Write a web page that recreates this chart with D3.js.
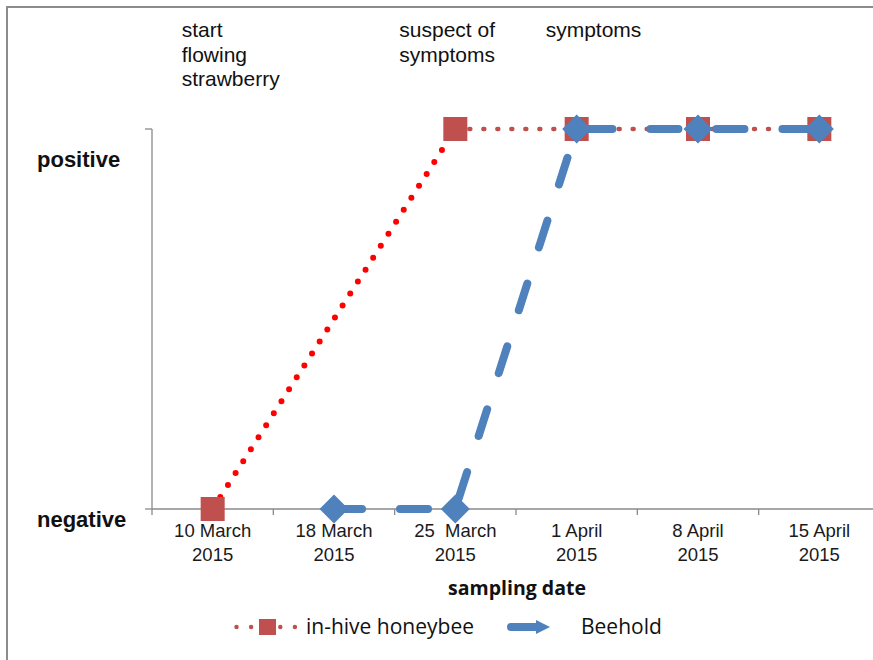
<!DOCTYPE html>
<html>
<head>
<meta charset="utf-8">
<script src="https://cdn.jsdelivr.net/npm/d3@7"></script>
<style>
  html, body { margin: 0; padding: 0; background: #fff; }
  svg { display: block; }
</style>
</head>
<body>
<svg id="chart" width="873" height="660"></svg>
<script>
// Sampling dates (two-line tick labels)
const dates = ["10 March 2015", "18 March 2015", "25 March 2015", "1 April 2015", "8 April 2015", "15 April 2015"];
const tickLines = [["10 March", "2015"], ["18 March", "2015"], ["25  March", "2015"], ["1 April", "2015"], ["8 April", "2015"], ["15 April", "2015"]];

// Detection results: 0 = negative, 1 = positive, null = not sampled
const honeybee = [0, null, 1, 1, 1, 1];
const beehold  = [null, 0, 0, 1, 1, 1];

const yLabels = ["negative", "positive"];
const seriesNames = ["in-hive honeybee", "Beehold"];

// Event notes above the plot
const noteDates = ["10 March 2015", "25 March 2015", "1 April 2015"];
const noteLines = [["start", "flowing", "strawberry"], ["suspect of", "symptoms"], ["symptoms"]];

const svg = d3.select("#chart");
const RED = "#FF0000", DARKRED = "#C0504D", BLUE = "#4F81BD", AXIS = "#8a8a8a";
const ARIAL = "'Liberation Sans', Arial, sans-serif";
const CAL = "'Open Sans', Lato, sans-serif";

// Outer frame (left and top edges)
svg.append("path").attr("d", "M7,660 V7 H873")
  .attr("fill", "none").attr("stroke", "#8c8c8c").attr("stroke-width", 2);

const x = d3.scaleBand().domain(dates).range([152, 880]).padding(0);
const cx = d => x(d) + x.bandwidth() / 2;
const y = d3.scaleLinear().domain([0, 1]).range([509, 129]);

// Axes
const g = svg.append("g");
g.append("line").attr("x1", 152).attr("x2", 152).attr("y1", y(1)).attr("y2", y(0))
  .attr("stroke", AXIS).attr("stroke-width", 1.3);
[0, 1].forEach(v => g.append("line").attr("x1", 145).attr("x2", 152)
  .attr("y1", y(v)).attr("y2", y(v)).attr("stroke", AXIS).attr("stroke-width", 1.3));
g.append("line").attr("x1", 152).attr("x2", 880).attr("y1", y(0)).attr("y2", y(0))
  .attr("stroke", AXIS).attr("stroke-width", 1.3);
dates.concat([null]).forEach(d => {
  const tx = d === null ? x.range()[1] : x(d);
  g.append("line").attr("x1", tx).attr("x2", tx).attr("y1", y(0)).attr("y2", y(0) + 6)
    .attr("stroke", AXIS).attr("stroke-width", 1.3);
});

// Category labels
dates.forEach((d, i) => {
  const t = svg.append("text").attr("x", cx(d)).attr("y", 537)
    .attr("text-anchor", "middle").attr("font-family", ARIAL).attr("font-size", 18.5)
    .attr("fill", "#1a1a1a").style("white-space", "pre");
  tickLines[i].forEach((ln, j) => t.append("tspan").attr("x", cx(d)).attr("dy", j ? 24 : 0).text(ln));
});

// Y category labels
const yLabelPos = [{ x: 37, y: 527 }, { x: 37, y: 167 }];
yLabels.forEach((l, i) => svg.append("text").attr("x", yLabelPos[i].x).attr("y", yLabelPos[i].y)
  .attr("font-family", ARIAL).attr("font-weight", "bold").attr("font-size", 22)
  .attr("fill", "#111").text(l));

// Axis title
svg.append("text").attr("x", 517).attr("y", 595).attr("text-anchor", "middle")
  .attr("font-family", CAL).attr("font-weight", "bold").attr("font-size", 19.5)
  .attr("fill", "#111").text("sampling date");

// Notes
const noteDx = [-31, -56, -31];
noteDates.forEach((d, i) => {
  const t = svg.append("text").attr("x", cx(d) + noteDx[i]).attr("y", 37)
    .attr("font-family", ARIAL).attr("font-size", 21).attr("fill", "#111");
  noteLines[i].forEach((ln, j) => t.append("tspan").attr("x", cx(d) + noteDx[i]).attr("dy", j ? 24.5 : 0).text(ln));
});

const line = d3.line().x(p => cx(p.d)).y(p => y(p.v));

// in-hive honeybee: consecutive sampled points joined by dotted segments
const hb = dates.map((d, i) => ({ d, v: honeybee[i] })).filter(p => p.v !== null);
for (let i = 0; i < hb.length - 1; i++) {
  const first = i === 0;
  svg.append("path").attr("d", line([hb[i], hb[i + 1]]))
    .attr("fill", "none")
    .attr("stroke", first ? RED : DARKRED)
    .attr("stroke-width", first ? 6 : 4.5)
    .attr("stroke-linecap", "round")
    .attr("stroke-dasharray", first ? "0 14.2" : "1 13");
}
svg.selectAll("rect.hb").data(hb).join("rect").attr("class", "hb")
  .attr("x", p => cx(p.d) - 12).attr("y", p => y(p.v) - 12)
  .attr("width", 24).attr("height", 24).attr("fill", DARKRED);

// Beehold: long-dash line with diamond markers
const bh = dates.map((d, i) => ({ d, v: beehold[i] })).filter(p => p.v !== null);
svg.append("path").attr("d", line(bh))
  .attr("fill", "none").attr("stroke", BLUE).attr("stroke-width", 8)
  .attr("stroke-linecap", "round").attr("stroke-linejoin", "round")
  .attr("stroke-dasharray", "28 38");
const diamond = d3.symbol().type(d3.symbolSquare).size(420);
svg.selectAll("path.bh").data(bh).join("path").attr("class", "bh")
  .attr("d", diamond)
  .attr("transform", p => `translate(${cx(p.d)},${y(p.v)}) rotate(45)`)
  .attr("fill", BLUE);

// Legend
const lg = svg.append("g");
lg.append("line").attr("x1", 236.5).attr("x2", 296).attr("y1", 627).attr("y2", 627)
  .attr("stroke", DARKRED).attr("stroke-width", 4.5).attr("stroke-linecap", "round")
  .attr("stroke-dasharray", "0 14.6");
lg.append("rect").attr("x", 259).attr("y", 619).attr("width", 17).attr("height", 16).attr("fill", DARKRED);
lg.append("text").attr("x", 306).attr("y", 634).attr("font-family", CAL).attr("font-size", 21)
  .attr("fill", "#111").text(seriesNames[0]);
lg.append("line").attr("x1", 511).attr("x2", 538).attr("y1", 627).attr("y2", 627)
  .attr("stroke", BLUE).attr("stroke-width", 8).attr("stroke-linecap", "round");
lg.append("path").attr("d", "M536,620 L550,627 L536,634 Z").attr("fill", BLUE);
lg.append("text").attr("x", 581).attr("y", 634).attr("font-family", CAL).attr("font-size", 21)
  .attr("fill", "#111").text(seriesNames[1]);
</script>
</body>
</html>
